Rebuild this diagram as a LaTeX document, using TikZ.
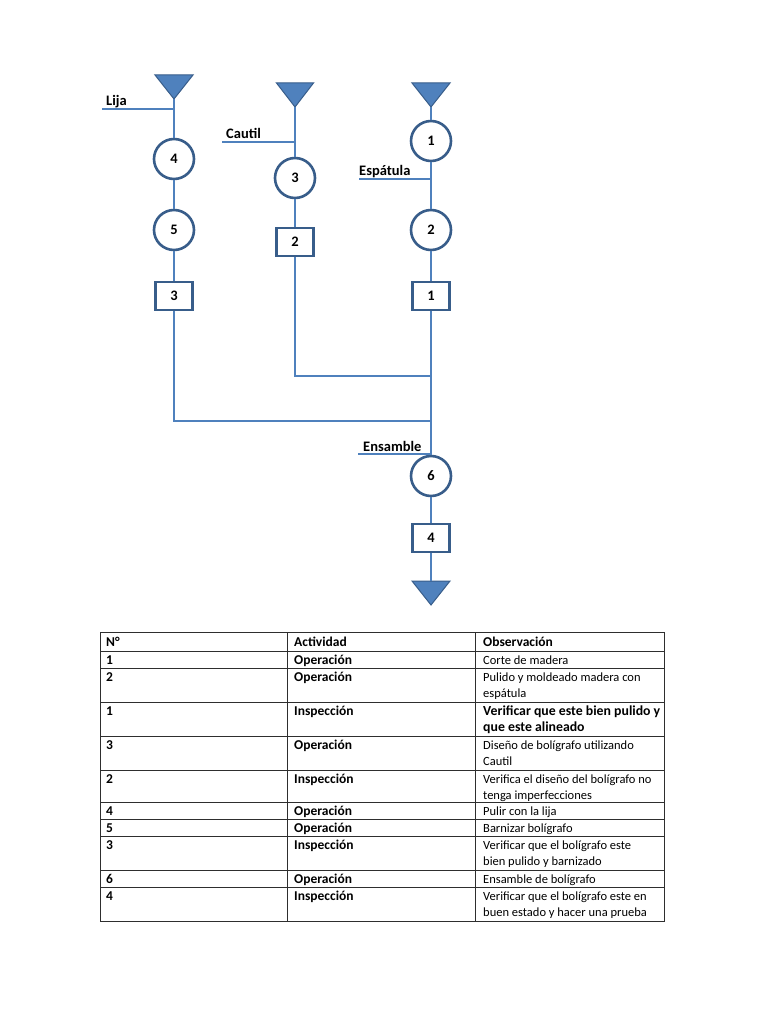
\documentclass[tikz,border=0pt]{standalone}
\usepackage{fontspec}
\setmainfont{Carlito}
\definecolor{lblue}{HTML}{4F81BD}
\definecolor{dblue}{HTML}{385D8A}
\definecolor{tgray}{HTML}{2E2E2E}
\newcommand\tstrut{\rule{0pt}{10.5pt}}
\begin{document}
\begin{tikzpicture}[x=1pt,y=-1pt,
  flow/.style={draw=lblue,line width=1.15pt},
  opnode/.style={circle,draw=dblue,line width=2.6pt,fill=white,minimum size=40pt,inner sep=0pt,font=\fontsize{14.5}{14.5}\selectfont\bfseries},
  inspnode/.style={rectangle,draw=dblue,line width=2.6pt,fill=white,minimum width=37pt,minimum height=28pt,inner sep=0pt,font=\fontsize{14.5}{14.5}\selectfont\bfseries},
  storetri/.style={fill=lblue,draw=dblue,line width=1pt,line join=miter},
  toolabel/.style={anchor=base west,inner sep=0pt,font=\fontsize{14.5}{15}\selectfont\bfseries},
  tline/.style={draw=tgray,line width=1pt},
  cellb/.style={anchor=north west,inner sep=0pt,align=left,font=\fontsize{13.5}{16}\selectfont\bfseries},
  cellbig/.style={anchor=north west,inner sep=0pt,align=left,font=\fontsize{13.8}{16}\selectfont\bfseries},
  cellr/.style={anchor=north west,inner sep=0pt,align=left,font=\fontsize{12.5}{16}\selectfont},
]
\useasboundingbox (0,0) rectangle (768,1024);
\fill[white] (0,0) rectangle (768,1024);

% storage triangles
\path[storetri] (155,75) -- (193,75) -- (174,99) -- cycle;
\coordinate (tA) at (174,99);
\path[storetri] (276.5,83) -- (313.5,83) -- (295,107) -- cycle;
\coordinate (tB) at (295,107);
\path[storetri] (412,83) -- (450,83) -- (431,107) -- cycle;
\coordinate (tC) at (431,107);
\path[storetri] (412,581) -- (450,581) -- (431,605) -- cycle;
\coordinate (tD) at (431,581);

% nodes
\node[opnode] (o4) at (174,159) {4};
\node[opnode] (o5) at (174,230) {5};
\node[inspnode] (i3) at (174,296) {3};
\node[opnode] (o3) at (295,178) {3};
\node[inspnode] (i2) at (295,242) {2};
\node[opnode] (o1) at (431,141) {1};
\node[opnode] (o2) at (431,230) {2};
\node[inspnode] (i1) at (431,296) {1};
\node[opnode] (o6) at (431,476) {6};
\node[inspnode] (i4) at (431,538) {4};

% join points
\coordinate (jB) at (431,376);
\coordinate (jA) at (431,421);

% connectors
\draw[flow] (tA) -- (o4);
\draw[flow] (o4) -- (o5);
\draw[flow] (o5) -- (i3);
\draw[flow] (tB) -- (o3);
\draw[flow] (o3) -- (i2);
\draw[flow] (tC) -- (o1);
\draw[flow] (o1) -- (o2);
\draw[flow] (o2) -- (i1);
\draw[flow] (i2) |- (jB);
\draw[flow] (i3) |- (jA);
\draw[flow] (i1) -- (o6);
\draw[flow] (o6) -- (i4);
\draw[flow] (i4) -- (tD);

% tool lines and labels
\coordinate (lijaS) at (102,109); \coordinate (lijaJ) at (174,109);
\draw[flow] (lijaS) -- (lijaJ);
\node[toolabel] (lija) at (106,106) {Lija};
\coordinate (cautS) at (222,142); \coordinate (cautJ) at (295,142);
\draw[flow] (cautS) -- (cautJ);
\node[toolabel] (cautil) at (226,139) {Cautil};
\coordinate (espS) at (359,179); \coordinate (espJ) at (431,179);
\draw[flow] (espS) -- (espJ);
\node[toolabel] (espatula) at (359,176) {Espátula};
\coordinate (ensS) at (358,454); \coordinate (ensJ) at (431,454);
\draw[flow] (ensS) -- (ensJ);
\node[toolabel] (ensamble) at (363,451) {Ensamble};

% table grid
\draw[tline] (100,632) rectangle (664,921);
\foreach \y in {651,668,702,736,770,802,819,836,870,887}
  \draw[tline] (100,\y) -- (664,\y);
\draw[tline] (287,632) -- (287,921);
\draw[tline] (475,632) -- (475,921);

% header
\node[cellb] (hn) at (106,635.5) {\tstrut N°};
\node[cellb] (ha) at (294,635.5) {\tstrut Actividad};
\node[cellb] (ho) at (483,635.5) {\tstrut Observación};

% rows
\node[cellb] (n1) at (106,653.5) {\tstrut 1};
\node[cellb] (a1) at (294,653.5) {\tstrut Operación};
\node[cellr] (c1) at (483,653.5) {\tstrut Corte de madera};

\node[cellb] (n2) at (106,670.5) {\tstrut 2};
\node[cellb] (a2) at (294,670.5) {\tstrut Operación};
\node[cellr] (c2) at (483,670.5) {\tstrut Pulido y moldeado madera con\\espátula};

\node[cellb] (n3) at (106,704.5) {\tstrut 1};
\node[cellb] (a3) at (294,704.5) {\tstrut Inspección};
\node[cellbig] (c3) at (483,704.5) {\tstrut Verificar que este bien pulido y\\que este alineado};

\node[cellb] (n4) at (106,738.5) {\tstrut 3};
\node[cellb] (a4) at (294,738.5) {\tstrut Operación};
\node[cellr] (c4) at (483,738.5) {\tstrut Diseño de bolígrafo utilizando\\Cautil};

\node[cellb] (n5) at (106,772.5) {\tstrut 2};
\node[cellb] (a5) at (294,772.5) {\tstrut Inspección};
\node[cellr] (c5) at (483,772.5) {\tstrut Verifica el diseño del bolígrafo no\\tenga imperfecciones};

\node[cellb] (n6) at (106,804.5) {\tstrut 4};
\node[cellb] (a6) at (294,804.5) {\tstrut Operación};
\node[cellr] (c6) at (483,804.5) {\tstrut Pulir con la lija};

\node[cellb] (n7) at (106,821.5) {\tstrut 5};
\node[cellb] (a7) at (294,821.5) {\tstrut Operación};
\node[cellr] (c7) at (483,821.5) {\tstrut Barnizar bolígrafo};

\node[cellb] (n8) at (106,838.5) {\tstrut 3};
\node[cellb] (a8) at (294,838.5) {\tstrut Inspección};
\node[cellr] (c8) at (483,838.5) {\tstrut Verificar que el bolígrafo este\\bien pulido y barnizado};

\node[cellb] (n9) at (106,872.5) {\tstrut 6};
\node[cellb] (a9) at (294,872.5) {\tstrut Operación};
\node[cellr] (c9) at (483,872.5) {\tstrut Ensamble de bolígrafo};

\node[cellb] (n10) at (106,889.5) {\tstrut 4};
\node[cellb] (a10) at (294,889.5) {\tstrut Inspección};
\node[cellr] (c10) at (483,889.5) {\tstrut Verificar que el bolígrafo este en\\buen estado y hacer una prueba};
\end{tikzpicture}
\end{document}
